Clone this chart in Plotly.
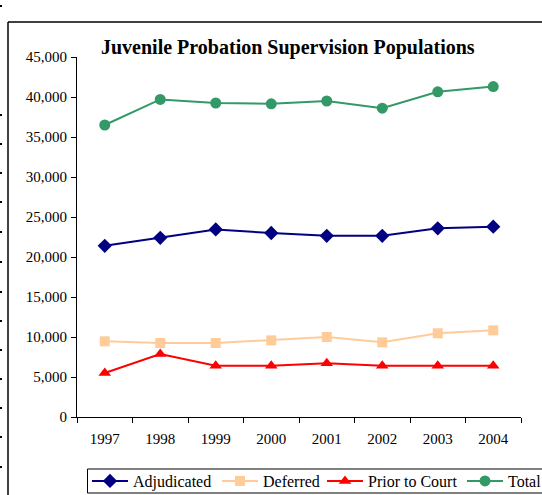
import plotly.graph_objects as go

years = ["1997", "1998", "1999", "2000", "2001", "2002", "2003", "2004"]
adjudicated = [21400, 22400, 23450, 23000, 22650, 22650, 23580, 23790]
deferred = [9460, 9250, 9250, 9580, 10000, 9330, 10460, 10830]
prior_to_court = [5500, 7870, 6420, 6420, 6710, 6420, 6420, 6420]
total = [36500, 39700, 39250, 39150, 39500, 38600, 40650, 41300]

W, H = 542, 495
L, R, T, B = 77, 21, 57, 78
PW, PH = W - L - R, H - T - B


def px(x):
    return (x - L) / PW


def py(y):
    return (H - B - y) / PH


FONT = "Liberation Serif, Times New Roman, serif"

fig = go.Figure()
series = [
    ("Adjudicated", adjudicated, "#000080", "diamond", 11, "legend", 92),
    ("Deferred", deferred, "#FFCC99", "square", 10, "legend2", 222),
    ("Prior to Court", prior_to_court, "#FF0000", "triangle-up", 11, "legend3", 327),
    ("Total", total, "#339966", "circle", 11, "legend4", 467),
]
legend_layout = {}
for name, vals, col, sym, size, lg, lx in series:
    fig.add_trace(go.Scatter(
        x=years, y=vals, name=name, mode="lines+markers",
        line=dict(color=col, width=2),
        marker=dict(symbol=sym, size=size, color=col),
        legend=lg,
    ))
    legend_layout[lg] = dict(
        orientation="h", x=px(lx - 5), y=py(481), xanchor="left", yanchor="middle",
        borderwidth=0, bgcolor="rgba(0,0,0,0)",
        font=dict(family=FONT, size=16, color="black"),
        itemwidth=36,
    )

fig.update_xaxes(
    type="category", range=[-0.5, 7.5], tickson="boundaries",
    ticks="outside", ticklen=5, tickcolor="black",
    showline=True, linecolor="black", linewidth=1, showgrid=False,
    tickfont=dict(family=FONT, size=15, color="black"),
    ticklabelstandoff=8, automargin=False,
)
fig.update_yaxes(
    range=[0, 45000], dtick=5000, tickformat=",",
    ticks="outside", ticklen=5, tickcolor="black",
    showline=True, linecolor="black", linewidth=1, showgrid=False, zeroline=False,
    tickfont=dict(family=FONT, size=15, color="black"),
    ticklabelstandoff=1, automargin=False,
)

shapes = [
    dict(type="line", xref="paper", yref="paper", x0=px(8), x1=px(8), y0=py(22), y1=py(500),
         line=dict(color="black", width=1.5)),
    dict(type="line", xref="paper", yref="paper", x0=px(8), x1=px(550), y0=py(22), y1=py(22),
         line=dict(color="black", width=1.5)),
    dict(type="rect", xref="paper", yref="paper", x0=px(87.5), x1=px(560), y0=py(469), y1=py(493),
         line=dict(color="black", width=1), fillcolor="white", layer="below"),
]
for yy in [6, 115, 144, 173, 202, 232, 262, 292, 321, 350, 379, 408, 437, 467]:
    shapes.append(dict(type="rect", xref="paper", yref="paper", x0=px(0), x1=px(2),
                       y0=py(yy - 1), y1=py(yy + 1), fillcolor="black", line=dict(width=0)))

fig.update_layout(
    width=W, height=H,
    margin=dict(l=L, r=R, t=T, b=B, autoexpand=False),
    paper_bgcolor="white", plot_bgcolor="rgba(0,0,0,0)",
    font=dict(family=FONT, color="black"),
    shapes=shapes,
    annotations=[dict(
        text="<b>Juvenile Probation Supervision Populations</b>",
        xref="paper", yref="paper", x=px(288), y=py(47),
        xanchor="center", yanchor="middle", showarrow=False,
        font=dict(family=FONT, size=20, color="black"),
    )],
    showlegend=True,
    **legend_layout,
)

fig.write_html("out.html", config={"displayModeBar": False},
               post_script="document.body.style.margin='0';")
